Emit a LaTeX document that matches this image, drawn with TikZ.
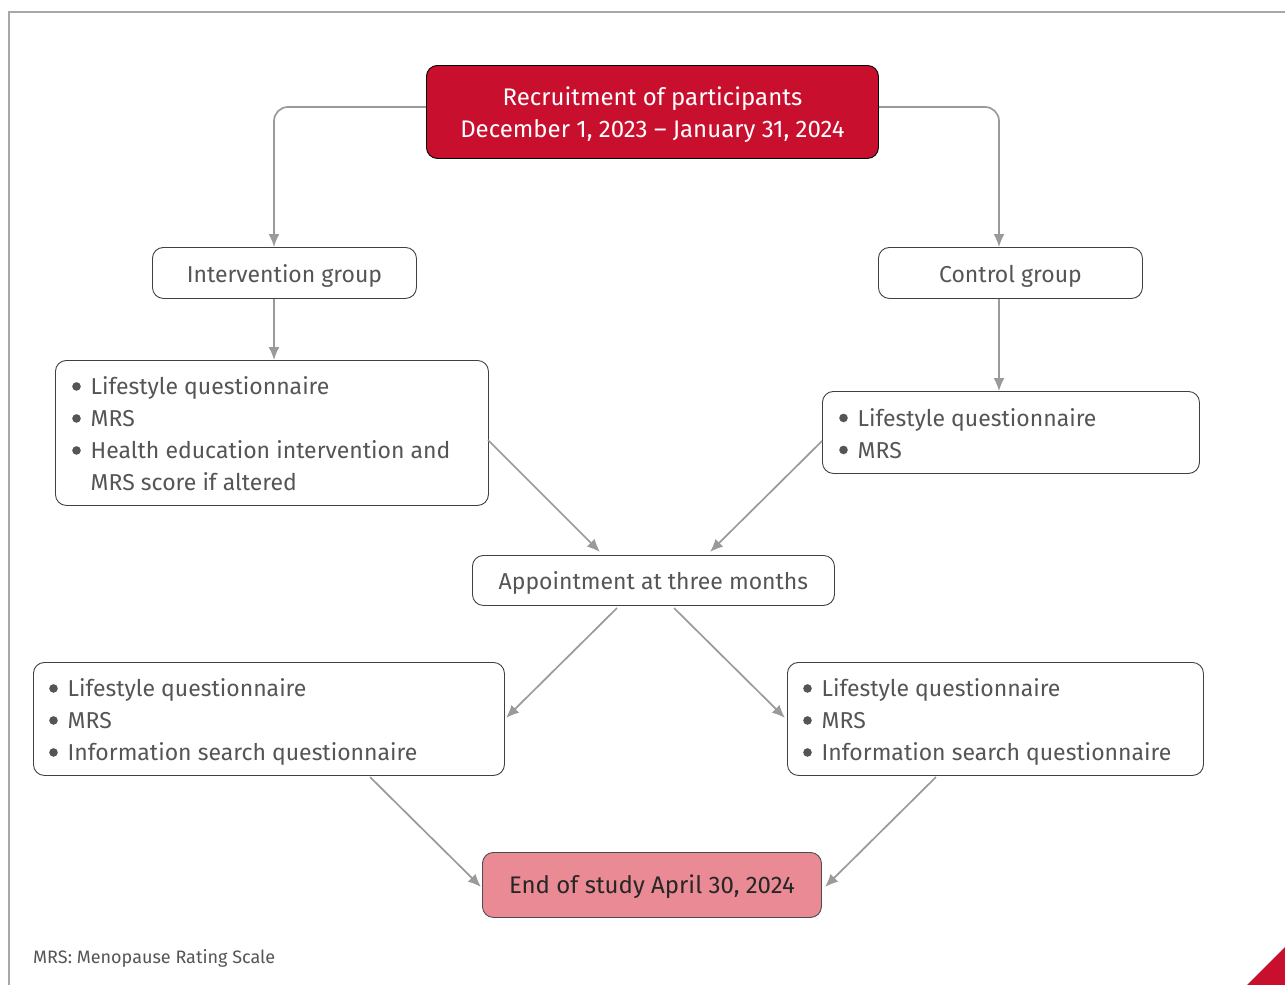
\documentclass[tikz,border=0pt]{standalone}
\usepackage{fontspec}
\setmainfont{Fira Sans}
\usetikzlibrary{arrows.meta}
\definecolor{redbox}{HTML}{C8102E}
\definecolor{pinkbox}{HTML}{E98A94}
\definecolor{lineg}{HTML}{9A9A9A}
\definecolor{textg}{HTML}{555555}
\definecolor{frameg}{HTML}{A8A8A8}
\begin{document}
\begin{tikzpicture}[x=1pt,y=-1pt,
  box/.style={draw=black!75,line width=0.9pt,rounded corners=11pt,fill=white,inner sep=0pt},
  txt/.style={inner sep=0pt,text=textg,font=\fontsize{23}{32}\selectfont,align=left},
  bulletdot/.style={fill=textg},
  conn/.style={draw=lineg,line width=1.7pt,-{Latex[length=13pt,width=11pt]}},
]
\useasboundingbox (0,0) rectangle (1285,985);
\draw[frameg,line width=1.5pt] (9,985) -- (9,12) -- (1285,12);
\fill[redbox] (1247,985) -- (1285,947) -- (1285,985) -- cycle;

% top box
\node[box,draw=black,fill=redbox,minimum width=452pt,minimum height=93pt,anchor=north west] (top) at (426,65) {};
\node[inner sep=0pt,text=white,font=\fontsize{24}{32}\selectfont,align=center] (topt) at ([yshift=-3pt]top.center) {Recruitment of participants\\December 1, 2023 -- January 31, 2024};

% groups
\node[box,minimum width=264pt,minimum height=51pt,anchor=north west] (ig) at (152,247) {};
\node[txt] (igt) at ([yshift=-3pt]ig.center) {Intervention group};
\node[box,minimum width=264pt,minimum height=51pt,anchor=north west] (cg) at (878,247) {};
\node[txt] (cgt) at ([yshift=-3pt]cg.center) {Control group};

% first boxes
\node[box,minimum width=433pt,minimum height=145pt,anchor=north west] (l1) at (55,360) {};
\node[txt,anchor=west] (l1t) at ([xshift=35.5pt,yshift=-1pt]l1.west) {Lifestyle questionnaire\\MRS\\Health education intervention and\\MRS score if altered};
\foreach \dy in {46.5,14.5,-17.5} \fill[bulletdot] ([xshift=21.5pt,yshift=\dy pt]l1.west) circle (4.3pt);

\node[box,minimum width=377pt,minimum height=82pt,anchor=north west] (r1) at (822,391) {};
\node[txt,anchor=west] (r1t) at ([xshift=35.5pt,yshift=-1pt]r1.west) {Lifestyle questionnaire\\MRS};
\foreach \dy in {14.5,-17.5} \fill[bulletdot] ([xshift=21.5pt,yshift=\dy pt]r1.west) circle (4.3pt);

% appointment
\node[box,minimum width=362pt,minimum height=50pt,anchor=north west] (ap) at (472,555) {};
\node[txt] (apt) at ([yshift=-3pt]ap.center) {Appointment at three months};

% second boxes
\node[box,minimum width=471pt,minimum height=113pt,anchor=north west] (l2) at (33,662) {};
\node[txt,anchor=west] (l2t) at ([xshift=34.5pt,yshift=-3pt]l2.west) {Lifestyle questionnaire\\MRS\\Information search questionnaire};
\foreach \dy in {30.5,-1.5,-33.5} \fill[bulletdot] ([xshift=20.5pt,yshift=\dy pt]l2.west) circle (4.3pt);

\node[box,minimum width=416pt,minimum height=113pt,anchor=north west] (r2) at (787,662) {};
\node[txt,anchor=west] (r2t) at ([xshift=34.5pt,yshift=-3pt]r2.west) {Lifestyle questionnaire\\MRS\\Information search questionnaire};
\foreach \dy in {30.5,-1.5,-33.5} \fill[bulletdot] ([xshift=20.5pt,yshift=\dy pt]r2.west) circle (4.3pt);

% end
\node[box,draw=black!70,fill=pinkbox,minimum width=339pt,minimum height=65pt,anchor=north west] (en) at (482,852) {};
\node[inner sep=0pt,text=black!85,font=\fontsize{24}{32}\selectfont] (ent) at ([yshift=-2pt]en.center) {End of study April 30, 2024};

% footnote
\node[inner sep=0pt,anchor=west,text=textg,font=\fontsize{18}{20}\selectfont] (fn) at (33,958) {MRS: Menopause Rating Scale};

% connectors
\coordinate (tl) at (274,107);
\coordinate (tr) at (999,107);
\draw[conn,rounded corners=14pt] (top.west |- tl) -- (tl) -- (tl |- ig.north);
\draw[conn,rounded corners=14pt] (top.east |- tr) -- (tr) -- (tr |- cg.north);
\draw[conn] (ig.south -| tl) -- (l1.north -| tl);
\draw[conn] (cg.south -| tr) -- (r1.north -| tr);
\coordinate (a1) at (488,440); \coordinate (a1e) at (600,552);
\coordinate (a2) at (822,441); \coordinate (a2e) at (710,552);
\draw[conn] (a1) -- (a1e);
\draw[conn] (a2) -- (a2e);
\coordinate (b1) at (617,608); \coordinate (b1e) at (506,718);
\coordinate (b2) at (674,608); \coordinate (b2e) at (785,718);
\draw[conn] (b1) -- (b1e);
\draw[conn] (b2) -- (b2e);
\coordinate (c1) at (370,777); \coordinate (c1e) at (481,887);
\coordinate (c2) at (936,777); \coordinate (c2e) at (825,887);
\draw[conn] (c1) -- (c1e);
\draw[conn] (c2) -- (c2e);
\end{tikzpicture}
\end{document}
